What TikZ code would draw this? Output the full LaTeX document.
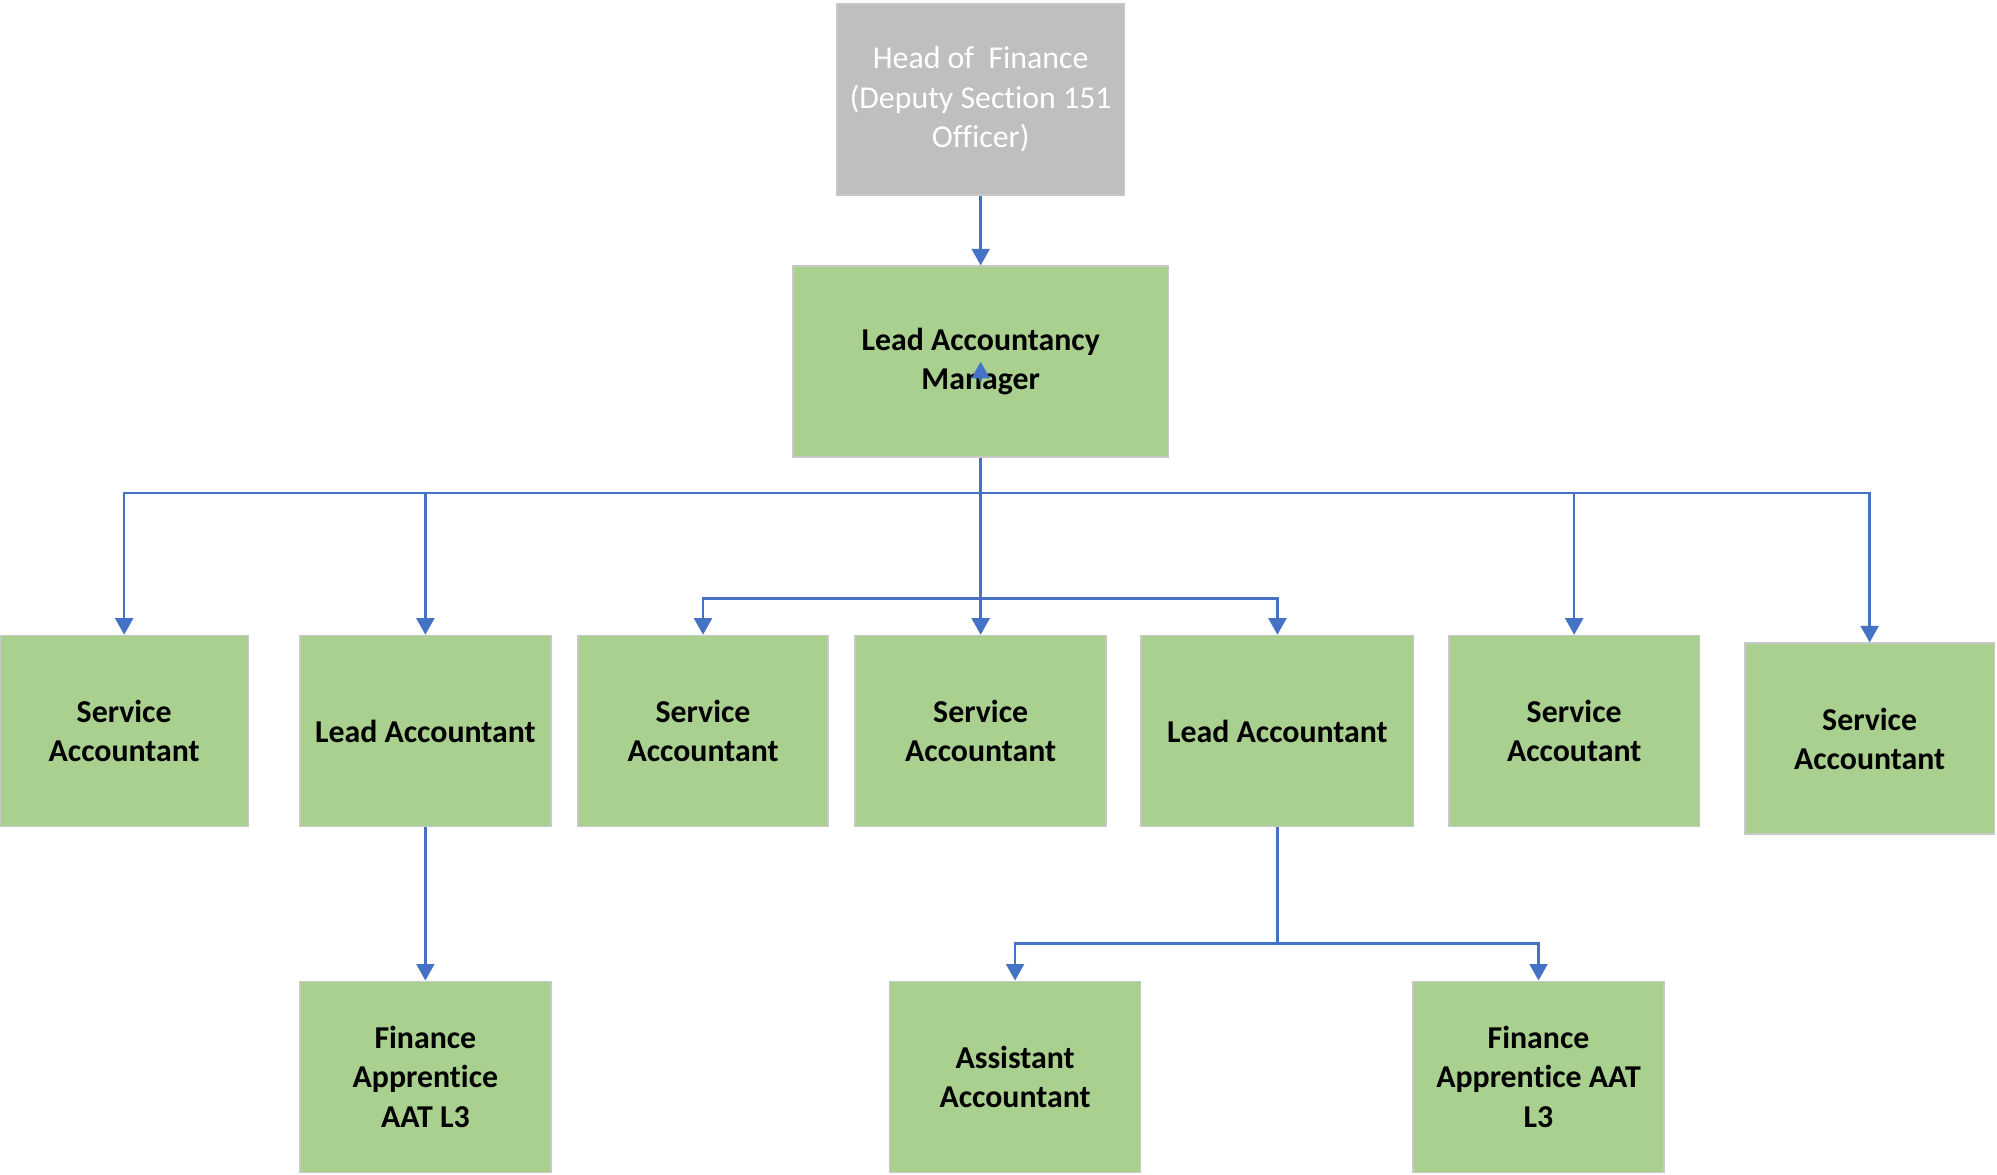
\documentclass[tikz,border=0pt]{standalone}
\usepackage{fontspec}
\setmainfont{Carlito}[Ligatures=NoCommon]
\usetikzlibrary{positioning}
\usetikzlibrary {arrows.meta}
\definecolor{boxgreen}{HTML}{A9D08E}
\definecolor{boxgrey}{HTML}{BFBFBF}
\definecolor{boxedge}{HTML}{C8C8C8}
\definecolor{linkblue}{HTML}{4472C4}
\tikzset{rolebox/.style={rectangle,draw=boxedge,fill=boxgreen,line width=0.6pt,
inner sep=2pt,minimum height=75pt, minimum width=98.5pt,align=center,
font=\fontsize{12.5}{15.4}\selectfont\bfseries}}
\tikzset{headbox/.style={rectangle,draw=boxedge,fill=boxgrey,line width=0.6pt,
inner sep=2pt,minimum height=75pt, minimum width=113pt,align=center,text=white,
font=\fontsize{12.5}{15.4}\selectfont}}
\tikzset{link/.style={draw=linkblue,line width=1pt,-{Triangle[length=6.5pt,width=7pt]}}}

\begin{document}
\begin{tikzpicture}[x=0.5pt,y=0.5pt]
        \useasboundingbox (0,0) rectangle (1568,-922);

        \node[headbox] (head) at (770,-78) {Head of\ \ Finance\\(Deputy Section 151\\Officer)};
        \node[rolebox, minimum width=147.5pt] (lam) at (770,-284) {Lead Accountancy\\Manager};

        \node[rolebox, minimum width=97.5pt] (sa1) at (97.5,-574) {Service\\Accountant};
        \node[rolebox] (la1) at (334,-574) {Lead Accountant};
        \node[rolebox, minimum width=98pt] (sa2) at (552,-574) {Service\\Accountant};
        \node[rolebox] (sa3) at (770,-574) {Service\\Accountant};
        \node[rolebox, minimum width=107pt] (la2) at (1003,-574) {Lead Accountant};
        \node[rolebox] (sa4) at (1236,-574) {Service\\Accoutant};
        \node[rolebox, minimum width=98pt] (sa5) at (1468,-580) {Service\\Accountant};

        \node[rolebox] (fa1) at (334,-845.5) {Finance\\Apprentice\\AAT L3};
        \node[rolebox] (aa) at (797,-845.5) {Assistant\\Accountant};
        \node[rolebox] (fa2) at (1208,-845.5) {Finance\\Apprentice AAT\\L3};

        \coordinate (bus) at (770,-387);
        \coordinate (subbus) at (770,-470);
        \coordinate (la2bus) at (1003,-741);

        \draw [link] (head) -- (lam);
        \draw [link] ([yshift=-7.5pt]lam.center) -- (lam.center);

        \draw [link] (lam.south) -- (sa3.north);
        \draw [link] (bus) -| (sa1.north);
        \draw [link] (bus) -| (la1.north);
        \draw [link] (bus) -| (sa4.north);
        \draw [link] (bus) -| (sa5.north);
        \draw [link] (subbus) -| (sa2.north);
        \draw [link] (subbus) -| (la2.north);

        \draw [link] (la1.south) -- (fa1.north);
        \draw [link,-] (la2.south) -- (la2bus);
        \draw [link] (la2bus) -| (aa.north);
        \draw [link] (la2bus) -| (fa2.north);

    \end{tikzpicture}
\end{document}
